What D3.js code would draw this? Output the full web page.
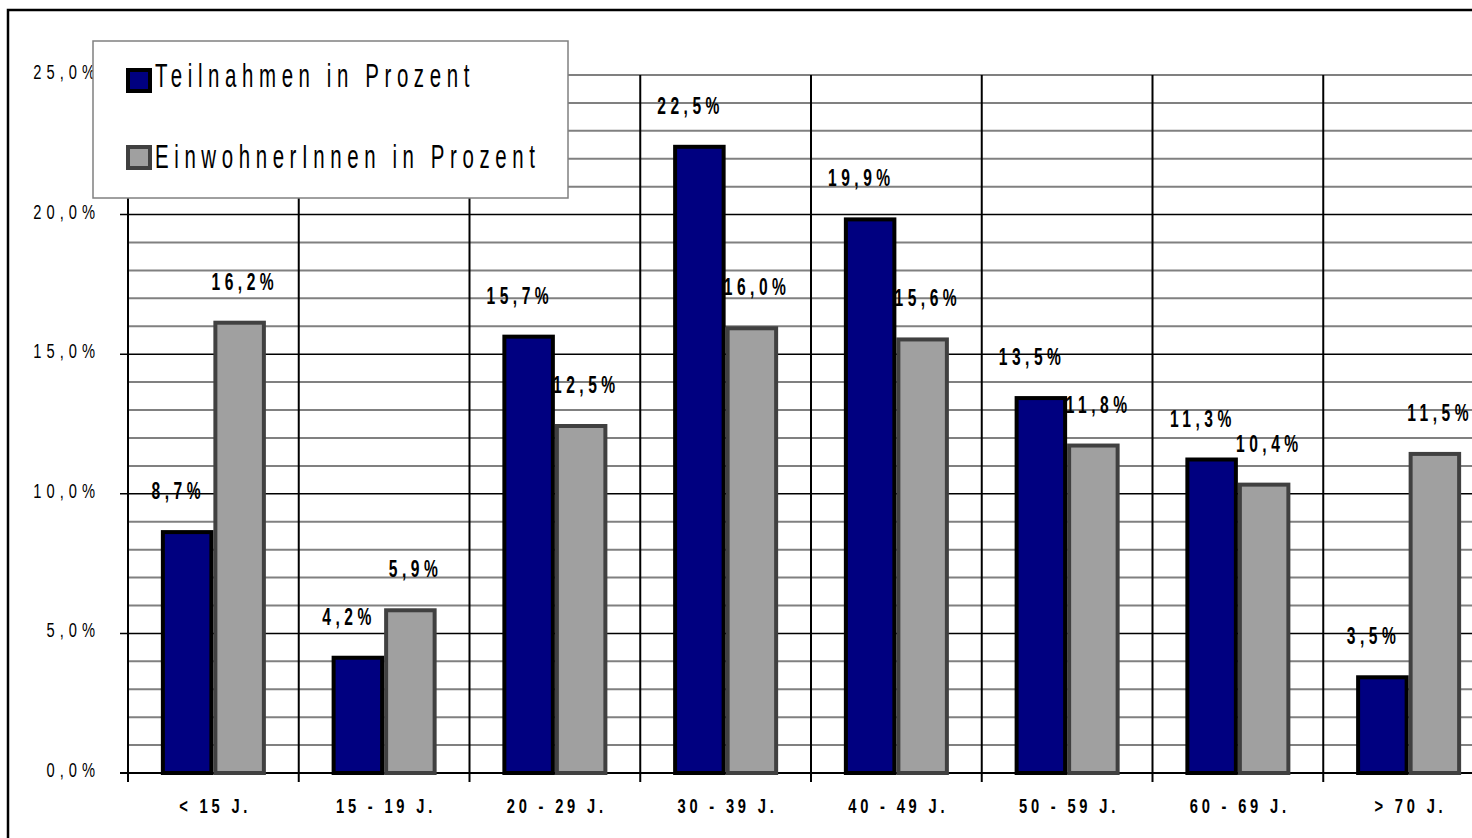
<!DOCTYPE html>
<html>
<head>
<meta charset="utf-8">
<script src="https://cdn.jsdelivr.net/npm/d3@7/dist/d3.min.js"></script>
<style>
html,body{margin:0;padding:0;background:#fff;overflow:hidden;}
svg{display:block;}
text{font-family:"Liberation Sans",Arial,sans-serif;}
</style>
</head>
<body>
<svg id="chart" width="1472" height="838"></svg>
<script>
const categories = ["< 15 J.", "15 - 19 J.", "20 - 29 J.", "30 - 39 J.", "40 - 49 J.", "50 - 59 J.", "60 - 69 J.", "> 70 J."];
const seriesNames = ["Teilnahmen in Prozent", "EinwohnerInnen in Prozent"];
const teilnahmen = [8.7, 4.2, 15.7, 22.5, 19.9, 13.5, 11.3, 3.5];
const einwohner = [16.2, 5.9, 12.5, 16.0, 15.6, 11.8, 10.4, 11.5];
const yTicks = [0, 5, 10, 15, 20, 25];

(function () {
const svg = d3.select("#chart");
const plotLeft = 128, stepW = 170.75, plotBottom = 773, plotTop = 75;
const x = d3.scaleBand().domain(categories).range([plotLeft, plotLeft + stepW * categories.length]).padding(0);
const xs = d3.scaleBand().domain(seriesNames).range([0, x.bandwidth()]).paddingInner(0).paddingOuter(0.626);
const y = d3.scaleLinear().domain([0, 25]).range([plotBottom, plotTop]);
const fmt = v => d3.format(".1f")(v).replace(".", ",") + "%";
const plotRight = x.range()[1];

const colors = {fill: ["#000080", "#a0a0a0"], stroke: ["#000000", "#404040"]};

function label(g, px, py, s, o) {
  const sc = o.sc || 0.7;
  const ls = o.ls / sc;
  let dx = 0;
  if (o.anchor === "end") dx = ls;
  if (o.anchor === "middle") dx = ls / 2;
  return g.append("text")
    .attr("transform", `translate(${px},${py}) scale(${sc},1)`)
    .attr("x", dx)
    .attr("text-anchor", o.anchor || "start")
    .attr("font-size", o.size)
    .attr("font-weight", o.bold ? "bold" : "normal")
    .attr("letter-spacing", ls)
    .attr("fill", "#000")
    .text(s);
}

// outer border
svg.append("rect").attr("x", 8).attr("y", 10).attr("width", 1700).attr("height", 1000)
  .attr("fill", "none").attr("stroke", "#000").attr("stroke-width", 2.5);

// grid
const grid = svg.append("g");
const minor = d3.range(1, 26).filter(v => v % 5 !== 0 || v === 25);
const major = d3.range(5, 25, 5);
grid.selectAll("line.minor").data(minor).join("line").attr("class", "minor")
  .attr("x1", plotLeft).attr("x2", plotRight)
  .attr("y1", d => y(d)).attr("y2", d => y(d))
  .attr("stroke", "#808080").attr("stroke-width", 2);
grid.selectAll("line.major").data(major).join("line").attr("class", "major")
  .attr("x1", plotLeft - 8).attr("x2", plotRight)
  .attr("y1", d => y(d)).attr("y2", d => y(d))
  .attr("stroke", "#000").attr("stroke-width", 1.5);
const bounds = categories.map(c => x(c)).concat([plotRight]);
grid.selectAll("line.v").data(bounds).join("line").attr("class", "v")
  .attr("x1", d => d).attr("x2", d => d)
  .attr("y1", y(25)).attr("y2", plotBottom + 9)
  .attr("stroke", "#000").attr("stroke-width", 2);
grid.append("line").attr("x1", plotLeft - 8).attr("x2", plotRight).attr("y1", plotBottom).attr("y2", plotBottom)
  .attr("stroke", "#000").attr("stroke-width", 2);

const bw = xs.bandwidth();
const g2 = svg.append("g");
g2.selectAll("rect").data(einwohner).join("rect")
  .attr("x", (d, i) => x(categories[i]) + xs(seriesNames[1]) + 2)
  .attr("y", d => y(d) + 2)
  .attr("width", bw - 4)
  .attr("height", d => plotBottom - y(d) - 2)
  .attr("fill", colors.fill[1]).attr("stroke", colors.stroke[1]).attr("stroke-width", 4);
einwohner.forEach((d, i) => {
  label(g2, x(categories[i]) + xs(seriesNames[1]) + bw / 2 + 3, y(d) - 31, fmt(d), {size: 24, bold: true, ls: 4.5, anchor: "middle", sc: 0.65});
});
const g1 = svg.append("g");
g1.selectAll("rect").data(teilnahmen).join("rect")
  .attr("x", (d, i) => x(categories[i]) + xs(seriesNames[0]) + 2)
  .attr("y", d => y(d) + 2)
  .attr("width", bw - 4)
  .attr("height", d => plotBottom - y(d) - 2)
  .attr("fill", colors.fill[0]).attr("stroke", colors.stroke[0]).attr("stroke-width", 4);
teilnahmen.forEach((d, i) => {
  label(g1, x(categories[i]) + xs(seriesNames[0]) + bw / 2 - 11, y(d) - 31, fmt(d), {size: 24, bold: true, ls: 4.5, anchor: "middle", sc: 0.65});
});

const ya = svg.append("g");
yTicks.forEach(v => label(ya, 95, y(v) + 4, fmt(v), {size: 21, ls: 5, anchor: "end", sc: 0.7}));

const xa = svg.append("g");
categories.forEach(c => label(xa, x(c) + x.bandwidth() / 2, 813, c, {size: 21, bold: true, ls: 3.8, anchor: "middle", sc: 0.7}));

const lg = svg.append("g");
lg.append("rect").attr("x", 93).attr("y", 41).attr("width", 475).attr("height", 157)
  .attr("fill", "#fff").attr("stroke", "#808080").attr("stroke-width", 1.5);
const legY = [[70, 87], [147, 168]];
seriesNames.forEach((s, i) => {
  lg.append("rect").attr("x", 128).attr("y", legY[i][0]).attr("width", 22).attr("height", 21)
    .attr("fill", colors.fill[i]).attr("stroke", colors.stroke[i]).attr("stroke-width", 4);
  label(lg, 155, legY[i][1], s, {size: 33, ls: 5.6, anchor: "start", sc: 0.62});
});
})();
</script>
</body>
</html>
